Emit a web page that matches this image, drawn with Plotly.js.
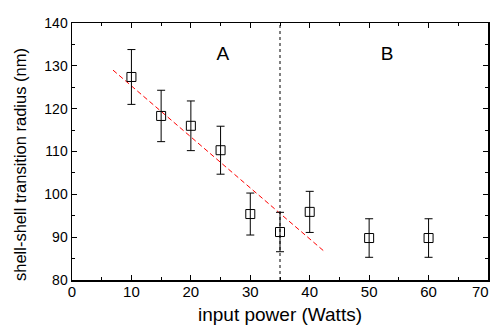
<!DOCTYPE html>
<html><head><meta charset="utf-8">
<script src="https://cdn.plot.ly/plotly-3.0.1.min.js"></script>
<style>body{margin:0;background:#fff}#c{width:496px;height:327px}</style>
</head><body><div id="c"></div>
<script>
const power = [10, 15, 20, 25, 30, 35, 40, 50, 60];
const radius = [127.4, 118.3, 116.0, 110.3, 95.4, 91.2, 95.9, 89.8, 89.8];
const errors = [6.4, 6.0, 5.8, 5.6, 4.9, 4.6, 4.8, 4.5, 4.5];
const fitX = [6.9, 42.6];
const fitY = [129.0, 86.5];
const boundaryX = [35, 35];
const boundaryY = [80, 140];
const regionLabels = ['A', 'B'];
const regionX = [25.4, 53];
const regionY = [132.5, 132.5];
const xTickVals = [0, 10, 20, 30, 40, 50, 60, 70];
const xTickText = ['0', '10', '20', '30', '40', '50', '60', ''];
const xLastTick = 70;
const xLastTickText = '70';
const yTickVals = [80, 90, 100, 110, 120, 130, 140];
const yTickText = ['80', '90', '100', '110', '120', '130', '140'];

const FONT = 'Liberation Sans, Arial, sans-serif';

const traces = [
  {x: fitX, y: fitY, mode: 'lines', line: {color: '#ff0000', dash: '5px,3px', width: 1}, hoverinfo: 'skip'},
  {x: boundaryX, y: boundaryY, mode: 'lines', line: {color: '#000', dash: '3px,3px', width: 1}, hoverinfo: 'skip'},
  {x: power, y: radius, mode: 'markers', type: 'scatter',
   marker: {symbol: 'square-open', size: 9, color: '#000', line: {width: 1, color: '#000'}},
   error_y: {type: 'data', array: errors, visible: true, color: '#000', thickness: 1, width: 4}},
  {x: regionX, y: regionY, mode: 'text', text: regionLabels, textfont: {size: 19, color: '#000', family: FONT}, hoverinfo: 'skip'}
];

const axisCommon = {
  showgrid: false, zeroline: false, showline: true, linecolor: '#000', linewidth: 1.5,
  ticks: 'inside', ticklen: 5, tickwidth: 1, tickcolor: '#000', mirror: 'allticks',
  minor: {dtick: 5, ticks: 'inside', ticklen: 3, tickwidth: 1, tickcolor: '#000'}
};

const layout = {
  width: 496, height: 327, showlegend: false,
  paper_bgcolor: '#fff', plot_bgcolor: '#fff',
  margin: {l: 72, r: 8, t: 23, b: 47},
  font: {family: FONT, color: '#000'},
  xaxis: Object.assign({}, axisCommon, {range: [0, 70], tickmode: 'array', tickvals: xTickVals, ticktext: xTickText,
    tickfont: {size: 15, color: '#000', family: FONT}, ticklabelstandoff: -3,
    title: {text: 'input power (Watts)', font: {size: 19}, standoff: 9}}),
  yaxis: Object.assign({}, axisCommon, {range: [80, 140], tickmode: 'array', tickvals: yTickVals, ticktext: yTickText,
    tickfont: {size: 14, color: '#000', family: FONT}}),
  annotations: [{
    text: 'shell-shell transition radius (nm)', textangle: -90,
    xref: 'paper', yref: 'paper', x: -0.125, y: 0.4475,
    xanchor: 'center', yanchor: 'middle', showarrow: false,
    font: {size: 16.5, color: '#000', family: FONT}
  }, {
    text: xLastTickText, xref: 'x', yref: 'paper', x: xLastTick, y: 0,
    xanchor: 'center', yanchor: 'top', xshift: -8, yshift: -1, showarrow: false,
    font: {size: 15, color: '#000', family: FONT}
  }]
};

Plotly.newPlot('c', traces, layout, {staticPlot: true});
</script></body></html>
